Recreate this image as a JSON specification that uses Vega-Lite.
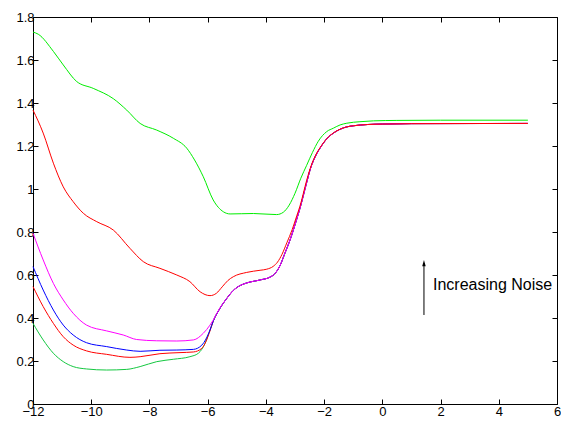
{
  "$schema": "https://vega.github.io/schema/vega-lite/v6.json",
  "width": 524,
  "height": 387,
  "autosize": {"type": "none"},
  "padding": {"left": 33, "top": 17, "right": 4, "bottom": 17},
  "config": {
    "view": {"stroke": null},
    "font": "Liberation Sans",
    "axis": {
      "domainColor": "#000000",
      "domainWidth": 1,
      "tickColor": "#000000",
      "tickWidth": 1,
      "labelColor": "#000000",
      "labelFont": "Liberation Sans",
      "labelFontSize": 13,
      "labelFlush": false,
      "labelOverlap": false,
      "grid": false,
      "title": null
    }
  },
  "datasets": {
    "curves": [
      {"s": "n1", "x": -12, "y": 0.375}, {"s": "n1", "x": -11.65, "y": 0.298}, {"s": "n1", "x": -11.3, "y": 0.236},
      {"s": "n1", "x": -10.96, "y": 0.197}, {"s": "n1", "x": -10.62, "y": 0.174}, {"s": "n1", "x": -10.16, "y": 0.163},
      {"s": "n1", "x": -9.47, "y": 0.158}, {"s": "n1", "x": -8.78, "y": 0.161}, {"s": "n1", "x": -8.32, "y": 0.174},
      {"s": "n1", "x": -7.75, "y": 0.197}, {"s": "n1", "x": -7.18, "y": 0.208}, {"s": "n1", "x": -6.61, "y": 0.22},
      {"s": "n1", "x": -6.32, "y": 0.236}, {"s": "n1", "x": -6.09, "y": 0.282}, {"s": "n1", "x": -5.92, "y": 0.344},
      {"s": "n1", "x": -5.81, "y": 0.385}, {"s": "n1", "x": -5.6, "y": 0.44}, {"s": "n1", "x": -5.35, "y": 0.49},
      {"s": "n1", "x": -5.12, "y": 0.528}, {"s": "n1", "x": -4.9, "y": 0.55}, {"s": "n1", "x": -4.66, "y": 0.563},
      {"s": "n1", "x": -4.2, "y": 0.577}, {"s": "n1", "x": -3.86, "y": 0.59}, {"s": "n1", "x": -3.7, "y": 0.605},
      {"s": "n1", "x": -3.51, "y": 0.645}, {"s": "n1", "x": -3.35, "y": 0.7}, {"s": "n1", "x": -3.17, "y": 0.763},
      {"s": "n1", "x": -2.94, "y": 0.86}, {"s": "n1", "x": -2.83, "y": 0.91}, {"s": "n1", "x": -2.6, "y": 1.03},
      {"s": "n1", "x": -2.48, "y": 1.09}, {"s": "n1", "x": -2.25, "y": 1.165}, {"s": "n1", "x": -2.14, "y": 1.19},
      {"s": "n1", "x": -1.91, "y": 1.233}, {"s": "n1", "x": -1.68, "y": 1.26}, {"s": "n1", "x": -1.45, "y": 1.278},
      {"s": "n1", "x": -1.22, "y": 1.289}, {"s": "n1", "x": -1.0, "y": 1.294}, {"s": "n1", "x": -0.5, "y": 1.3},
      {"s": "n1", "x": 0, "y": 1.302}, {"s": "n1", "x": 1, "y": 1.304}, {"s": "n1", "x": 5, "y": 1.305},

      {"s": "n2", "x": -12, "y": 0.546}, {"s": "n2", "x": -11.65, "y": 0.453}, {"s": "n2", "x": -11.3, "y": 0.375},
      {"s": "n2", "x": -10.96, "y": 0.313}, {"s": "n2", "x": -10.62, "y": 0.274}, {"s": "n2", "x": -10.16, "y": 0.247},
      {"s": "n2", "x": -9.47, "y": 0.231}, {"s": "n2", "x": -8.67, "y": 0.217}, {"s": "n2", "x": -8.32, "y": 0.22},
      {"s": "n2", "x": -7.64, "y": 0.234}, {"s": "n2", "x": -6.95, "y": 0.239}, {"s": "n2", "x": -6.49, "y": 0.242},
      {"s": "n2", "x": -6.2, "y": 0.259}, {"s": "n2", "x": -5.92, "y": 0.34},
      {"s": "n2", "x": -5.81, "y": 0.385}, {"s": "n2", "x": -5.6, "y": 0.44}, {"s": "n2", "x": -5.35, "y": 0.49},
      {"s": "n2", "x": -5.12, "y": 0.528}, {"s": "n2", "x": -4.9, "y": 0.55}, {"s": "n2", "x": -4.66, "y": 0.563},
      {"s": "n2", "x": -4.2, "y": 0.577}, {"s": "n2", "x": -3.86, "y": 0.59}, {"s": "n2", "x": -3.7, "y": 0.605},
      {"s": "n2", "x": -3.51, "y": 0.645}, {"s": "n2", "x": -3.35, "y": 0.7}, {"s": "n2", "x": -3.17, "y": 0.763},
      {"s": "n2", "x": -2.94, "y": 0.86}, {"s": "n2", "x": -2.83, "y": 0.91}, {"s": "n2", "x": -2.6, "y": 1.03},
      {"s": "n2", "x": -2.48, "y": 1.09}, {"s": "n2", "x": -2.25, "y": 1.165}, {"s": "n2", "x": -2.14, "y": 1.19},
      {"s": "n2", "x": -1.91, "y": 1.233}, {"s": "n2", "x": -1.68, "y": 1.26}, {"s": "n2", "x": -1.45, "y": 1.278},
      {"s": "n2", "x": -1.22, "y": 1.289}, {"s": "n2", "x": -1.0, "y": 1.294}, {"s": "n2", "x": -0.5, "y": 1.3},
      {"s": "n2", "x": 0, "y": 1.302}, {"s": "n2", "x": 1, "y": 1.304}, {"s": "n2", "x": 5, "y": 1.305},

      {"s": "n3", "x": -12, "y": 0.639}, {"s": "n3", "x": -11.65, "y": 0.53}, {"s": "n3", "x": -11.3, "y": 0.437},
      {"s": "n3", "x": -10.96, "y": 0.367}, {"s": "n3", "x": -10.62, "y": 0.321}, {"s": "n3", "x": -10.16, "y": 0.285},
      {"s": "n3", "x": -9.47, "y": 0.267}, {"s": "n3", "x": -8.78, "y": 0.251}, {"s": "n3", "x": -8.32, "y": 0.245},
      {"s": "n3", "x": -7.64, "y": 0.25}, {"s": "n3", "x": -7.06, "y": 0.251}, {"s": "n3", "x": -6.49, "y": 0.254},
      {"s": "n3", "x": -6.2, "y": 0.274}, {"s": "n3", "x": -5.92, "y": 0.344},
      {"s": "n3", "x": -5.81, "y": 0.385}, {"s": "n3", "x": -5.6, "y": 0.44}, {"s": "n3", "x": -5.35, "y": 0.49},
      {"s": "n3", "x": -5.12, "y": 0.528}, {"s": "n3", "x": -4.9, "y": 0.55}, {"s": "n3", "x": -4.66, "y": 0.563},
      {"s": "n3", "x": -4.2, "y": 0.577}, {"s": "n3", "x": -3.86, "y": 0.59}, {"s": "n3", "x": -3.7, "y": 0.605},
      {"s": "n3", "x": -3.51, "y": 0.645}, {"s": "n3", "x": -3.35, "y": 0.7}, {"s": "n3", "x": -3.17, "y": 0.763},
      {"s": "n3", "x": -2.94, "y": 0.86}, {"s": "n3", "x": -2.83, "y": 0.91}, {"s": "n3", "x": -2.6, "y": 1.03},
      {"s": "n3", "x": -2.48, "y": 1.09}, {"s": "n3", "x": -2.25, "y": 1.165}, {"s": "n3", "x": -2.14, "y": 1.19},
      {"s": "n3", "x": -1.91, "y": 1.233}, {"s": "n3", "x": -1.68, "y": 1.26}, {"s": "n3", "x": -1.45, "y": 1.278},
      {"s": "n3", "x": -1.22, "y": 1.289}, {"s": "n3", "x": -1.0, "y": 1.294}, {"s": "n3", "x": -0.5, "y": 1.3},
      {"s": "n3", "x": 0, "y": 1.302}, {"s": "n3", "x": 1, "y": 1.304}, {"s": "n3", "x": 5, "y": 1.305},

      {"s": "n4", "x": -12, "y": 0.794}, {"s": "n4", "x": -11.65, "y": 0.67}, {"s": "n4", "x": -11.3, "y": 0.561},
      {"s": "n4", "x": -10.96, "y": 0.484}, {"s": "n4", "x": -10.62, "y": 0.422}, {"s": "n4", "x": -10.16, "y": 0.367},
      {"s": "n4", "x": -9.47, "y": 0.34}, {"s": "n4", "x": -8.9, "y": 0.321}, {"s": "n4", "x": -8.44, "y": 0.3},
      {"s": "n4", "x": -7.75, "y": 0.294}, {"s": "n4", "x": -7.06, "y": 0.293}, {"s": "n4", "x": -6.49, "y": 0.298},
      {"s": "n4", "x": -6.15, "y": 0.329}, {"s": "n4", "x": -5.92, "y": 0.367},
      {"s": "n4", "x": -5.81, "y": 0.39}, {"s": "n4", "x": -5.6, "y": 0.442}, {"s": "n4", "x": -5.35, "y": 0.49},
      {"s": "n4", "x": -5.12, "y": 0.528}, {"s": "n4", "x": -4.9, "y": 0.55}, {"s": "n4", "x": -4.66, "y": 0.563},
      {"s": "n4", "x": -4.2, "y": 0.577}, {"s": "n4", "x": -3.86, "y": 0.59}, {"s": "n4", "x": -3.7, "y": 0.605},
      {"s": "n4", "x": -3.51, "y": 0.645}, {"s": "n4", "x": -3.35, "y": 0.7}, {"s": "n4", "x": -3.17, "y": 0.763},
      {"s": "n4", "x": -2.94, "y": 0.86}, {"s": "n4", "x": -2.83, "y": 0.91}, {"s": "n4", "x": -2.6, "y": 1.03},
      {"s": "n4", "x": -2.48, "y": 1.09}, {"s": "n4", "x": -2.25, "y": 1.165}, {"s": "n4", "x": -2.14, "y": 1.19},
      {"s": "n4", "x": -1.91, "y": 1.233}, {"s": "n4", "x": -1.68, "y": 1.26}, {"s": "n4", "x": -1.45, "y": 1.278},
      {"s": "n4", "x": -1.22, "y": 1.289}, {"s": "n4", "x": -1.0, "y": 1.294}, {"s": "n4", "x": -0.5, "y": 1.3},
      {"s": "n4", "x": 0, "y": 1.302}, {"s": "n4", "x": 1, "y": 1.304}, {"s": "n4", "x": 5, "y": 1.305},

      {"s": "n5", "x": -12, "y": 1.367}, {"s": "n5", "x": -11.65, "y": 1.26}, {"s": "n5", "x": -11.3, "y": 1.12},
      {"s": "n5", "x": -10.96, "y": 1.01}, {"s": "n5", "x": -10.62, "y": 0.941}, {"s": "n5", "x": -10.27, "y": 0.887},
      {"s": "n5", "x": -9.81, "y": 0.848}, {"s": "n5", "x": -9.24, "y": 0.809}, {"s": "n5", "x": -8.67, "y": 0.724},
      {"s": "n5", "x": -8.21, "y": 0.662}, {"s": "n5", "x": -7.64, "y": 0.631}, {"s": "n5", "x": -7.06, "y": 0.6},
      {"s": "n5", "x": -6.61, "y": 0.569}, {"s": "n5", "x": -6.26, "y": 0.522}, {"s": "n5", "x": -5.92, "y": 0.504},
      {"s": "n5", "x": -5.7, "y": 0.515}, {"s": "n5", "x": -5.5, "y": 0.545}, {"s": "n5", "x": -5.3, "y": 0.575},
      {"s": "n5", "x": -5.12, "y": 0.592}, {"s": "n5", "x": -4.66, "y": 0.612}, {"s": "n5", "x": -4.2, "y": 0.622},
      {"s": "n5", "x": -3.97, "y": 0.627}, {"s": "n5", "x": -3.75, "y": 0.64}, {"s": "n5", "x": -3.6, "y": 0.66},
      {"s": "n5", "x": -3.45, "y": 0.695}, {"s": "n5", "x": -3.28, "y": 0.75}, {"s": "n5", "x": -3.1, "y": 0.81},
      {"s": "n5", "x": -2.94, "y": 0.875}, {"s": "n5", "x": -2.83, "y": 0.92}, {"s": "n5", "x": -2.6, "y": 1.04},
      {"s": "n5", "x": -2.48, "y": 1.095}, {"s": "n5", "x": -2.25, "y": 1.168}, {"s": "n5", "x": -2.14, "y": 1.192},
      {"s": "n5", "x": -1.91, "y": 1.234}, {"s": "n5", "x": -1.68, "y": 1.261}, {"s": "n5", "x": -1.45, "y": 1.278},
      {"s": "n5", "x": -1.22, "y": 1.289}, {"s": "n5", "x": -1.0, "y": 1.294}, {"s": "n5", "x": -0.5, "y": 1.3},
      {"s": "n5", "x": 0, "y": 1.302}, {"s": "n5", "x": 1, "y": 1.304}, {"s": "n5", "x": 5, "y": 1.305},

      {"s": "n6", "x": -12, "y": 1.73}, {"s": "n6", "x": -11.82, "y": 1.72}, {"s": "n6", "x": -11.3, "y": 1.64},
      {"s": "n6", "x": -10.96, "y": 1.577}, {"s": "n6", "x": -10.5, "y": 1.5}, {"s": "n6", "x": -9.93, "y": 1.468},
      {"s": "n6", "x": -9.24, "y": 1.42}, {"s": "n6", "x": -8.78, "y": 1.367}, {"s": "n6", "x": -8.32, "y": 1.305},
      {"s": "n6", "x": -7.75, "y": 1.274}, {"s": "n6", "x": -7.18, "y": 1.236}, {"s": "n6", "x": -6.72, "y": 1.19},
      {"s": "n6", "x": -6.45, "y": 1.135}, {"s": "n6", "x": -6.15, "y": 1.057}, {"s": "n6", "x": -5.81, "y": 0.949},
      {"s": "n6", "x": -5.46, "y": 0.894}, {"s": "n6", "x": -5.23, "y": 0.884}, {"s": "n6", "x": -4.43, "y": 0.886},
      {"s": "n6", "x": -3.63, "y": 0.881}, {"s": "n6", "x": -3.4, "y": 0.892}, {"s": "n6", "x": -3.2, "y": 0.925},
      {"s": "n6", "x": -3.0, "y": 0.98}, {"s": "n6", "x": -2.8, "y": 1.05}, {"s": "n6", "x": -2.6, "y": 1.11},
      {"s": "n6", "x": -2.4, "y": 1.17}, {"s": "n6", "x": -2.2, "y": 1.222}, {"s": "n6", "x": -1.91, "y": 1.267},
      {"s": "n6", "x": -1.68, "y": 1.283}, {"s": "n6", "x": -1.45, "y": 1.298}, {"s": "n6", "x": -1.22, "y": 1.306},
      {"s": "n6", "x": -0.77, "y": 1.313}, {"s": "n6", "x": -0.3, "y": 1.317}, {"s": "n6", "x": 0.5, "y": 1.319},
      {"s": "n6", "x": 2, "y": 1.32}, {"s": "n6", "x": 5, "y": 1.32}
    ],
    "arrow": [{"x": 1.43, "y": 0.414, "y2": 0.655}],
    "arrowhead": [{"x": 1.43, "y": 0.655}],
    "note": [{"x": 1.74, "y": 0.553, "label": "Increasing Noise"}]
  },
  "layer": [
    {
      "data": {"name": "curves"},
      "mark": {"type": "line", "strokeWidth": 1, "interpolate": "monotone"},
      "encoding": {
        "x": {
          "field": "x", "type": "quantitative",
          "scale": {"domain": [-12, 6], "nice": false, "zero": false},
          "axis": {"orient": "bottom", "values": [-12, -10, -8, -6, -4, -2, 0, 2, 4, 6], "tickSize": -5, "labelPadding": 6}
        },
        "y": {
          "field": "y", "type": "quantitative",
          "scale": {"domain": [0, 1.8], "nice": false, "zero": false},
          "axis": {"orient": "left", "values": [0, 0.2, 0.4, 0.6, 0.8, 1, 1.2, 1.4, 1.6, 1.8], "format": ".1~f", "tickSize": -5, "labelPadding": 4}
        },
        "color": {
          "field": "s", "type": "nominal", "legend": null,
          "scale": {"domain": ["n1", "n2", "n3", "n4", "n5", "n6"], "range": ["#14c840", "#ff0000", "#0000ff", "#ff00ff", "#ff0000", "#00ee00"]}
        }
      }
    },
    {
      "data": {"name": "curves"},
      "mark": {"type": "line", "opacity": 0},
      "encoding": {
        "x": {"field": "x", "type": "quantitative", "axis": {"orient": "top", "values": [-12, -10, -8, -6, -4, -2, 0, 2, 4, 6], "tickSize": -5, "labels": false}},
        "y": {"field": "y", "type": "quantitative", "axis": {"orient": "right", "values": [0, 0.2, 0.4, 0.6, 0.8, 1, 1.2, 1.4, 1.6, 1.8], "tickSize": -5, "labels": false}}
      }
    },
    {
      "data": {"name": "arrow"},
      "mark": {"type": "rule", "color": "#000000", "strokeWidth": 1},
      "encoding": {
        "x": {"field": "x", "type": "quantitative", "axis": null},
        "y": {"field": "y", "type": "quantitative", "axis": null},
        "y2": {"field": "y2"}
      }
    },
    {
      "data": {"name": "arrowhead"},
      "mark": {"type": "point", "shape": "M0,-1L0.55,1L-0.55,1Z", "filled": true, "color": "#000000", "opacity": 1, "size": 40},
      "encoding": {
        "x": {"field": "x", "type": "quantitative", "axis": null},
        "y": {"field": "y", "type": "quantitative", "axis": null}
      }
    },
    {
      "data": {"name": "note"},
      "mark": {"type": "text", "align": "left", "baseline": "middle", "font": "Liberation Sans", "fontSize": 16, "color": "#000000"},
      "encoding": {
        "x": {"field": "x", "type": "quantitative", "axis": null},
        "y": {"field": "y", "type": "quantitative", "axis": null},
        "text": {"field": "label"}
      }
    }
  ],
  "resolve": {"axis": {"x": "independent", "y": "independent"}}
}
